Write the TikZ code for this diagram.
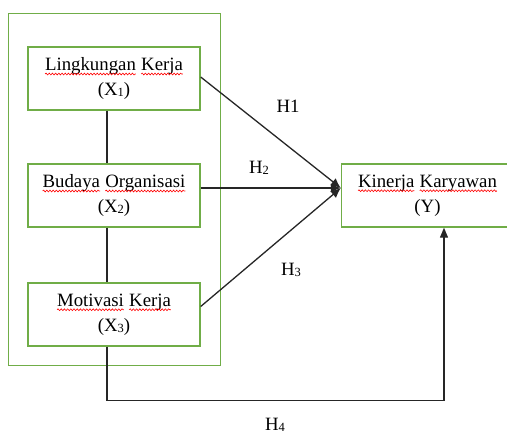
\documentclass[tikz,border=0pt]{standalone}
\usepackage{fontspec}
\setmainfont{Liberation Serif}
\usetikzlibrary{arrows.meta,decorations.pathmorphing}
\definecolor{boxgreen}{RGB}{112,173,71}
\newcommand\sbs[1]{\raisebox{-1pt}{\fontsize{12.5}{12.5}\selectfont #1}}
\newcommand\wv[1]{\tikz[baseline=(w.base)]{\node[draw=none,minimum width=0pt,minimum height=0pt,inner sep=0pt,outer sep=0pt,align=left] (w) {#1};\draw[red,line width=0.6pt,decorate,decoration={snake,amplitude=0.9pt,segment length=3.2pt}] ([yshift=-3.5pt]w.base west) -- ([yshift=-3.5pt]w.base east);}}
\begin{document}
\begin{tikzpicture}[x=1pt,y=-1pt,
  boxst/.style={draw=boxgreen,line width=1.4pt,minimum width=172pt,minimum height=63pt,align=center,inner sep=0pt,font=\fontsize{18.8}{25}\selectfont},
  grpst/.style={draw=boxgreen,line width=1.4pt,minimum width=212.5pt,minimum height=352.5pt,inner sep=0pt},
  lnst/.style={line width=1.3pt,black!85},
  lblst/.style={inner sep=0pt,font=\fontsize{18.8}{20}\selectfont},
  tipst/.style={-{Latex[length=10pt,width=9pt]}}]
\clip (0,0) rectangle (507,434);
\node[grpst] (grp) at (114.5,189.5) {};
\node[boxst] (b1) at (114,78.5) {\wv{Lingkungan} \wv{Kerja}\\(X\sbs{1})};
\node[boxst] (b2) at (114,195.5) {\wv{Budaya} \wv{Organisasi}\\(X\sbs{2})};
\node[boxst] (b3) at (114,314.5) {\wv{Motivasi} \wv{Kerja}\\(X\sbs{3})};
\node[boxst] (y) at (427.5,195.5) {\wv{Kinerja} \wv{Karyawan}\\(Y)};
\coordinate (tip) at ([yshift=7.5pt]y.west);
\draw[lnst] ([xshift=-7pt]b1.south) -- ([xshift=-7pt]b2.north);
\draw[lnst] ([xshift=-7pt]b2.south) -- ([xshift=-7pt]b3.north);
\draw[lnst,tipst] ([yshift=1.5pt]b1.east) -- (tip);
\draw[lnst,tipst] ([yshift=7.5pt]b2.east) -- (tip);
\draw[lnst,tipst] ([yshift=8pt]b3.east) -- (tip);
\draw[lnst,-{Triangle[length=10pt,width=8pt]}] ([xshift=-7pt]b3.south) -- ++(0,54) -| ([xshift=16.5pt]y.south);
\node[lblst] (h1) at (288,106) {H1};
\node[lblst] (h2) at (259,167.5) {H\sbs{2}};
\node[lblst] (h3) at (291,270) {H\sbs{3}};
\node[lblst] (h4) at (275,424.5) {H\sbs{4}};
\end{tikzpicture}
\end{document}
